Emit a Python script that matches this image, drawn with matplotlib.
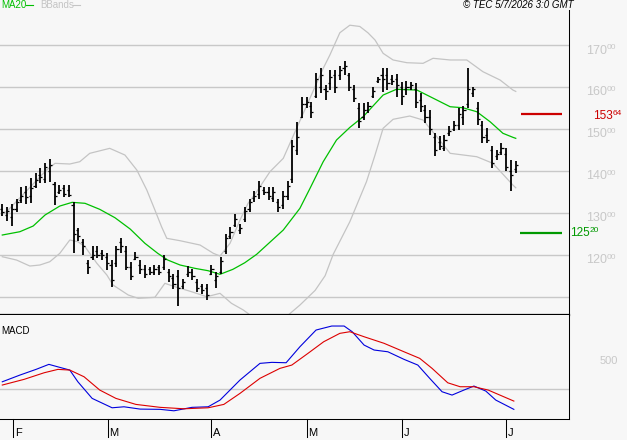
import matplotlib
matplotlib.use("Agg")
import matplotlib.pyplot as plt

plt.rcParams['font.family'] = ['Liberation Sans', 'DejaVu Sans']

# daily bars (Feb - early Jul): high, low, open, close
high = [13203, 13138, 13203, 13341, 13610, 13642, 13829, 13951, 14073, 14195,
        14293, 13748, 13667, 13667, 13667, 13260, 12650, 12366, 11878, 12203,
        12203, 12122, 12041, 11878, 12203, 12407, 12203, 11825, 12063, 11865,
        11746, 11706, 11746, 11746, 11984, 11667, 11548, 11627, 11429, 11722,
        11667, 11429, 11310, 11310, 11746, 11587, 11944, 12500, 12659, 12976,
        12738, 13135, 13343, 13518, 13758, 13622, 13622, 13622, 13343, 13518,
        13758, 14738, 15178, 15776, 15776, 15657, 16335, 16455, 16056, 16415,
        16415, 16495, 16615, 16335, 16056, 15617, 15617, 15657, 16016, 16255,
        16455, 16455, 16294, 16318, 16135, 16159, 16135, 16095, 15857, 15579,
        15460, 14904, 14825, 14865, 15063, 15182, 15500, 15540, 16452, 16016,
        15659, 15182, 15023, 14603, 14508, 14666, 14547, 14270, 14230]
low = [12935, 12813, 12691, 13016, 13236, 13220, 13244, 13585, 13707, 13707,
       13748, 13179, 13463, 13382, 13382, 12040, 12325, 12000, 11553, 11878,
       11919, 11878, 11634, 11228, 11715, 12041, 11634, 11405, 11865, 11548,
       11452, 11508, 11508, 11508, 11627, 11349, 11190, 10770, 11190, 11468,
       11389, 11111, 11071, 10913, 11508, 11214, 11548, 12024, 12381, 12659,
       12500, 12778, 13016, 13263, 13343, 13423, 13303, 13263, 13024, 13088,
       13303, 13710, 14380, 15257, 15497, 15257, 15737, 15857, 15697, 15936,
       15857, 16176, 16295, 15912, 15657, 15035, 15218, 15377, 15737, 16096,
       15897, 15936, 16056, 15778, 15579, 15817, 15936, 15500, 15420, 15143,
       14865, 14349, 14508, 14468, 14825, 14944, 14984, 15103, 15500, 15778,
       15103, 14666, 14666, 14071, 14270, 14388, 13991, 13515, 13952]
opn = [13100, 12950, 12900, 13100, 13300, 13500, 13400, 13650, 13900, 13800,
       14000, 13700, 13500, 13600, 13550, 13200, 12600, 12300, 11800, 11950,
       12100, 12050, 11950, 11750, 11800, 12300, 12100, 11700, 11900, 11750,
       11650, 11650, 11600, 11700, 11700, 11600, 11450, 11500, 11250, 11550,
       11600, 11350, 11250, 11200, 11550, 11400, 11600, 12100, 12450, 12700,
       12600, 12850, 13100, 13350, 13450, 13550, 13500, 13350, 13250, 13200,
       13400, 13800, 14500, 15300, 15600, 15550, 15800, 16000, 15950, 16100,
       16300, 16300, 16450, 16300, 15950, 15500, 15300, 15450, 15800, 16150,
       16300, 16300, 16200, 16200, 16000, 15950, 16000, 15950, 15700, 15450,
       15300, 14800, 14700, 14550, 14900, 15000, 15100, 15300, 15600, 15850,
       15500, 15100, 14850, 14500, 14350, 14450, 14400, 14000, 14050]
close = [13020, 13050, 13100, 13250, 13400, 13380, 13600, 13780, 13850, 14100,
         14150, 13400, 13550, 13450, 13420, 12500, 12450, 12200, 11700, 12000,
         12000, 12000, 11800, 11400, 12150, 12200, 11700, 11500, 11950, 11650,
         11550, 11600, 11650, 11600, 11900, 11500, 11300, 11200, 11350, 11600,
         11500, 11200, 11150, 11050, 11650, 11500, 11850, 12400, 12550, 12850,
         12650, 13050, 13250, 13400, 13650, 13500, 13400, 13500, 13150, 13400,
         13650, 14600, 14800, 15600, 15650, 15400, 16200, 16300, 15900, 16250,
         16000, 16400, 16500, 16000, 15750, 15200, 15450, 15550, 15900, 16200,
         16200, 16100, 16150, 16050, 15800, 16000, 16050, 15650, 15550, 15300,
         15000, 14500, 14600, 14750, 14950, 15100, 15350, 15450, 15950, 15950,
         15250, 14800, 14750, 14200, 14400, 14550, 14100, 13900, 14150]

# 20-day average, read at bar positions
ma20_pos = [0, 3.7, 6.5, 9.0, 12.1, 14.7, 17.4, 20.5, 23.7, 26.9, 30.0, 32.7,
            34.8, 37.4, 40.5, 43.3, 45.8, 48.5, 51.0, 53.5, 59.1, 62.6, 64.7,
            67.5, 70.3, 73.1, 75.9, 80.1, 82.9, 87.2, 91.4, 94.2, 96.9, 99.8,
            102.6, 105.3, 107.4, 108.0]
ma20_val = [12472, 12551, 12687, 12950, 13164, 13252, 13229, 13085, 12885,
            12615, 12274, 12035, 11875, 11756, 11677, 11620, 11534, 11653,
            11810, 12011, 12591, 13109, 13580, 14222, 14740, 15040, 15296,
            15813, 15950, 15933, 15694, 15534, 15510, 15415, 15176, 14900,
            14804, 14780]

# Bollinger bands
upper_pos = [0, 0.9, 9.3, 11.1, 14.2, 16.3, 18.4, 22.6, 25.8, 28.3, 30.4, 32.1,
             33.5, 34.6, 37.4, 41.6, 44.4, 45.8, 47.9, 50.0, 51.7, 53.5, 56.3,
             59.1, 61.9, 64.7, 67.5, 68.9, 71.0, 73.1, 75.2, 76.9, 78.4, 80.1,
             82.2, 85.1, 88.5, 90.6, 94.2, 97.7, 101.1, 104.7, 107.4, 108.0]
upper_val = [12990, 13028, 14023, 14183, 14167, 14222, 14422, 14541, 14381,
             14023, 13546, 13069, 12670, 12393, 12336, 12233, 12035, 11971,
             12274, 12830, 13229, 13505, 13983, 14302, 15019, 15735, 16451,
             16768, 17300, 17480, 17450, 17300, 17127, 16809, 16650, 16585,
             16570, 16690, 16650, 16650, 16370, 16172, 15933, 15900]
lower_pos = [0, 3.0, 5.8, 7.9, 10.0, 12.1, 14.2, 15.9, 17.4, 19.9, 22.0, 23.3,
             26.5, 28.6, 32.1, 34.2, 36.3, 39.8, 43.0, 45.8, 48.2, 50.7, 53.1,
             56.3, 59.5, 62.6, 65.8, 67.9, 69.6, 73.1, 76.6, 78.4, 80.1, 82.2,
             85.7, 88.5, 91.4, 94.2, 99.8, 103.2, 107.4, 108.0]
lower_val = [11954, 11875, 11732, 11756, 11835, 12035, 12353, 12312, 12193,
             11796, 11517, 11278, 11040, 10961, 10985, 11319, 11239, 11119,
             11000, 11080, 10842, 10682, 10480, 10300, 10500, 10800, 11150,
             11500, 12011, 12789, 13744, 14381, 15019, 15234, 15312, 15217,
             14818, 14422, 14341, 14183, 13665, 13600]

# MACD and signal
macd_pos = [0, 3.7, 7.1, 9.8, 12.1, 14.2, 15.9, 18.9, 23.1, 25.6, 29.0, 33.2,
            36.1, 39.9, 43.3, 45.8, 50.0, 54.2, 56.7, 59.7, 62.6, 66.0, 69.3,
            71.9, 73.6, 76.1, 78.2, 81.1, 84.5, 87.4, 89.9, 92.5, 94.6, 97.1,
            99.2, 101.7, 103.8, 107.6]
macd_val = [121, 228, 319, 399, 351, 308, 121, -144, -294, -278, -315, -319,
            -342, -287, -278, -171, 149, 415, 431, 425, 680, 947, 1011, 1011,
            920, 707, 628, 600, 479, 388, 176, -38, -91, -11, 53, -27, -171,
            -319]
signal_pos = [0, 4.6, 8.8, 11.7, 14.2, 17.2, 20.5, 23.9, 28.1, 33.2, 38.2,
              43.3, 46.6, 50.0, 54.2, 58.4, 60.9, 64.3, 67.6, 71.0, 73.1, 76.1,
              80.3, 84.5, 87.8, 90.4, 93.7, 96.3, 99.2, 102.2, 107.6]
signal_val = [69, 160, 265, 319, 308, 201, -11, -144, -240, -287, -310, -294,
              -240, -64, 176, 335, 388, 575, 760, 894, 920, 840, 735, 600, 495,
              335, 105, 42, 42, -11, -187]

price_levels = [11000, 12000, 13000, 14000, 15000, 16000, 17000]
resist, support = 15364, 12520
month_ticks = [2.3, 22.2, 43.9, 64.0, 84.0, 105.9]
month_labels = ['F', 'M', 'A', 'M', 'J', 'J']

bg = '#f7f7f7'
grid = '#c8c8c8'
W, H = 627, 440

fig = plt.figure(figsize=(W / 100, H / 100), dpi=100, facecolor=bg)
ax = fig.add_axes([0, (H - 315) / H, 569 / W, 305 / H], facecolor=bg)
ax2 = fig.add_axes([0, (H - 419) / H, 569 / W, 104 / H], facecolor=bg)

xlim = (-0.48, 119.2)
for a in (ax, ax2):
    a.set_xlim(*xlim)
    a.set_xticks([])
    a.set_yticks([])
    for s in ('top', 'left'):
        a.spines[s].set_visible(False)
    a.spines['right'].set_linewidth(0.75)
ax.set_ylim(10563, 17843)
ax2.set_ylim(-473, 1187)
ax.spines['bottom'].set_linewidth(1.6)
ax2.spines['bottom'].set_linewidth(0.75)

for lv in price_levels:
    ax.axhline(lv, color=grid, lw=1.0, zorder=1)
ax2.axhline(0, color=grid, lw=1.0, zorder=1)

# bands and average
ax.plot(upper_pos, upper_val, color='#c4c4c4', lw=0.9, zorder=2)
ax.plot(lower_pos, lower_val, color='#c4c4c4', lw=0.9, zorder=2)
ax.plot(ma20_pos, ma20_val, color='#00c000', lw=0.9, zorder=3)

# bars
n = len(high)
ax.vlines(range(n), low, high, color='black', lw=1.3, zorder=4)
ax.hlines(opn, [i - 0.45 for i in range(n)], list(range(n)), color='black', lw=0.9, zorder=4)
ax.hlines(close, list(range(n)), [i + 0.45 for i in range(n)], color='black', lw=0.9, zorder=4)

# right-side price scale
ytr = ax.get_yaxis_transform()
for lv in price_levels[1:]:
    ax.text(586 / 569, lv - 125, str(lv // 100), transform=ytr, color=grid,
            fontsize=9, va='center', ha='left', clip_on=False)
    ax.text(607 / 569, lv - 55, '00', transform=ytr, color=grid,
            fontsize=6, va='center', ha='left', clip_on=False)

ax.hlines(resist, 521 / 569, 562 / 569, transform=ytr, color='#cc0000', lw=1.6, zorder=5, clip_on=False)
ax.text(593 / 569, resist - 60, str(resist // 100), transform=ytr, color='#cc0000',
        fontsize=8.5, va='center', ha='left', clip_on=False)
ax.text(613 / 569, resist + 10, '%02d' % (resist % 100), transform=ytr, color='#cc0000',
        fontsize=6, va='center', ha='left', clip_on=False)
ax.hlines(support, 520 / 569, 562 / 569, transform=ytr, color='#009900', lw=1.6, zorder=5, clip_on=False)
ax.text(570 / 569, support - 10, str(support // 100), transform=ytr, color='#009900',
        fontsize=8.5, va='center', ha='left', clip_on=False)
ax.text(590 / 569, support + 50, '%02d' % (support % 100), transform=ytr, color='#009900',
        fontsize=6, va='center', ha='left', clip_on=False)

# MACD panel
ax2.plot(macd_pos, macd_val, color='#0000dd', lw=0.8, zorder=3)
ax2.plot(signal_pos, signal_val, color='#dd0000', lw=0.8, zorder=3)
ax2.text(0.003, 0.85, 'MACD', transform=ax2.transAxes, fontsize=7, va='center', ha='left')
ytr2 = ax2.get_yaxis_transform()
ax2.text(600 / 569, 455, '500', transform=ytr2, color=grid, fontsize=8, va='center',
         ha='left', clip_on=False)

xtr2 = ax2.get_xaxis_transform()
for p, lab in zip(month_ticks, month_labels):
    ax2.plot([p, p], [0, -18 / 104], transform=xtr2, color='black', lw=0.75, clip_on=False)
    ax2.text(p + 0.35, -19 / 104, lab, transform=xtr2, fontsize=8, va='bottom',
             ha='left', clip_on=False)

# header
fig.text(1 / W, 1 - 5 / H, 'MA20', color='#00c000', fontsize=7, va='center', ha='left')
fig.add_artist(plt.Line2D([26 / W, 33 / W], [1 - 5 / H, 1 - 5 / H], color='#00c000', lw=0.8))
fig.text(40 / W, 1 - 5 / H, 'BBands', color='#c4c4c4', fontsize=7, va='center', ha='left')
fig.add_artist(plt.Line2D([73 / W, 80 / W], [1 - 5 / H, 1 - 5 / H], color='#c4c4c4', lw=0.8))
fig.text(574 / W, 1 - 5 / H, '© TEC 5/7/2026 3:0 GMT', fontsize=7, style='italic',
         va='center', ha='right')

fig.savefig('out.png', dpi=100, facecolor=bg)
